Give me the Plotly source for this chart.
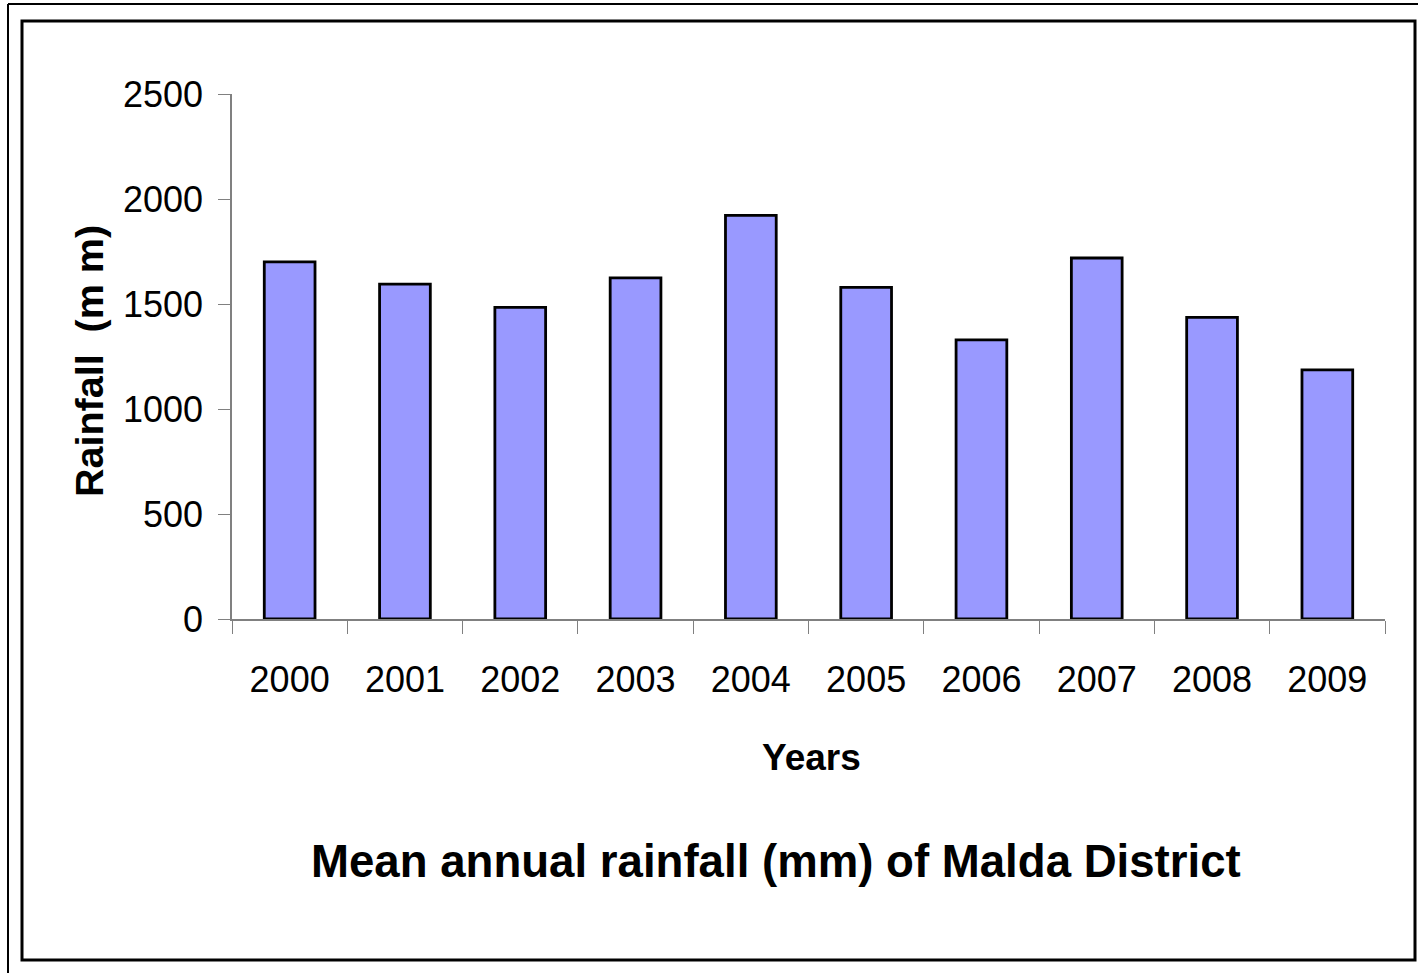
import plotly.graph_objects as go

years = ["2000", "2001", "2002", "2003", "2004", "2005", "2006", "2007", "2008", "2009"]
rainfall = [1701, 1595, 1484, 1624, 1922, 1579, 1329, 1719, 1436, 1186]
y_ticks = [0, 500, 1000, 1500, 2000, 2500]

W, H = 1418, 973
L, R, T, B = 232, 1385, 94, 619
pw, ph = R - L, B - T

def px(x):
    return (x - L) / pw

def py(y):
    return (B - y) / ph

FONT = "Liberation Sans, Arial, sans-serif"

fig = go.Figure(go.Bar(
    x=years, y=rainfall,
    marker=dict(color="#9999FF", line=dict(color="black", width=2.8)),
))

fig.update_layout(
    width=W, height=H,
    margin=dict(l=L, r=W - R, t=T, b=H - B, pad=0),
    paper_bgcolor="white", plot_bgcolor="white",
    bargap=0.56, showlegend=False,
    font=dict(family=FONT, color="black"),
    xaxis=dict(
        type="category", range=[-0.5, 9.5], tickson="boundaries",
        ticks="outside", ticklen=13, tickcolor="#808080", tickwidth=1,
        showline=True, linecolor="#808080", linewidth=1.5,
        showgrid=False, zeroline=False,
        tickfont=dict(size=36, family=FONT, color="black"),
        ticklabelstandoff=28,
    ),
    yaxis=dict(
        range=[0, 2500], tickvals=y_ticks, ticktext=[str(v) for v in y_ticks],
        ticks="outside", ticklen=12, tickcolor="#808080", tickwidth=1,
        showline=True, linecolor="#808080", linewidth=1.5,
        showgrid=False, zeroline=False,
        tickfont=dict(size=36, family=FONT, color="black"),
        ticklabelstandoff=8,
    ),
)

# frames
fig.add_shape(type="line", xref="paper", yref="paper",
              x0=px(8), x1=px(8), y0=py(4), y1=py(973),
              line=dict(color="black", width=2))
fig.add_shape(type="line", xref="paper", yref="paper",
              x0=px(8), x1=px(1418), y0=py(4), y1=py(4),
              line=dict(color="black", width=2))
fig.add_shape(type="rect", xref="paper", yref="paper",
              x0=px(22), x1=px(1415), y0=py(960), y1=py(21),
              line=dict(color="black", width=3), fillcolor="rgba(0,0,0,0)")

# titles
fig.add_annotation(text="<b>Years</b>", xref="paper", yref="paper",
                   x=px(811), y=py(757), showarrow=False,
                   xanchor="center", yanchor="middle",
                   font=dict(size=37, family=FONT, color="black"))
fig.add_annotation(text="<b>Rainfall\u00a0\u00a0(m\u00a0m)</b>", xref="paper", yref="paper",
                   x=px(89), y=py(361), showarrow=False, textangle=-90,
                   xanchor="center", yanchor="middle",
                   font=dict(size=39.5, family=FONT, color="black"))
fig.add_annotation(text="<b>Mean annual rainfall (mm) of Malda District</b>",
                   xref="paper", yref="paper",
                   x=px(776), y=py(861), showarrow=False,
                   xanchor="center", yanchor="middle",
                   font=dict(size=45.6, family=FONT, color="black"))

fig.write_html("out.html",
               config={"displayModeBar": False},
               post_script="document.body.style.margin='0';document.body.style.padding='0';")
